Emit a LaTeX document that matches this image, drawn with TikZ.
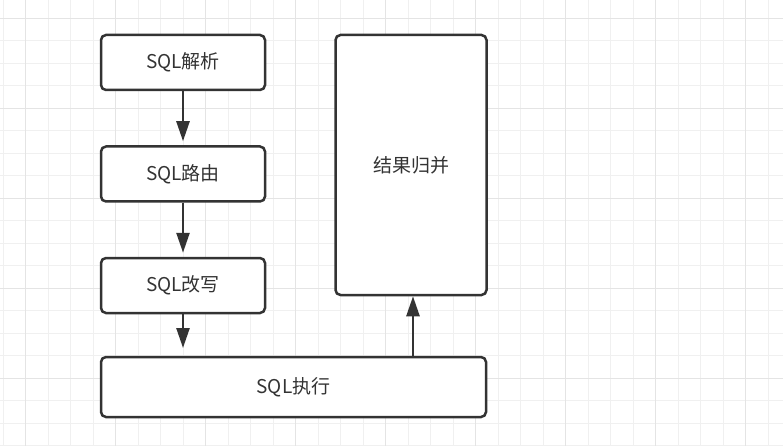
\documentclass[tikz,border=0pt]{standalone}
\usepackage{fontspec}
\setmainfont{Noto Sans CJK SC}
\usetikzlibrary{arrows.meta}
\definecolor{linegray}{HTML}{333333}
\definecolor{gridminor}{HTML}{F0F0F0}
\definecolor{gridmajor}{HTML}{E4E4E4}
\begin{document}
\begin{tikzpicture}[x=1pt,y=-1pt,%
                stepbox/.style={draw=linegray,line width=2.5pt,rounded corners=5pt,
                  fill=white,text=linegray,inner sep=0pt,
                  font=\fontsize{19}{22}\selectfont},
                flow/.style={draw=linegray,line width=2.5pt,
                  -{Triangle[length=20pt,width=13pt]}}
        ]
            \useasboundingbox (0,0) rectangle (783,446);
            % grid
            \foreach \gx in {3.2,25.7,...,783}
                \draw [gridminor,line width=1pt] (\gx,0) -- (\gx,446);
            \foreach \gy in {-4.2,18.3,...,446}
                \draw [gridminor,line width=1pt] (0,\gy) -- (783,\gy);
            \foreach \gx in {25.7,115.7,...,783}
                \draw [gridmajor,line width=1pt] (\gx,0) -- (\gx,446);
            \foreach \gy in {18.3,108.3,...,446}
                \draw [gridmajor,line width=1pt] (0,\gy) -- (783,\gy);
            % steps
            \node [stepbox,minimum width=164pt,minimum height=55pt] (parse) at (183,62.5) {SQL解析};
            \node [stepbox,minimum width=164pt,minimum height=55pt] (route) at (183,174) {SQL路由};
            \node [stepbox,minimum width=164pt,minimum height=55pt] (rewrite) at (183,285.5) {SQL改写};
            \node [stepbox,minimum width=385pt,minimum height=60pt] (execute) at (293.5,387) {SQL执行};
            \node [stepbox,minimum width=151pt,minimum height=260pt] (merge) at (411,165) {结果归并};
            \coordinate (rewriteend) at (183,348);
            \coordinate (mergein) at ([xshift=2pt]merge.south);
            % arrows
            \draw [flow,shorten >=4pt] (parse) -- (route);
            \draw [flow,shorten >=4pt] (route) -- (rewrite);
            \draw [flow] (rewrite) -- (rewriteend);
            \draw [flow] (execute.north -| mergein) -- (mergein);
        \end{tikzpicture}
\end{document}
